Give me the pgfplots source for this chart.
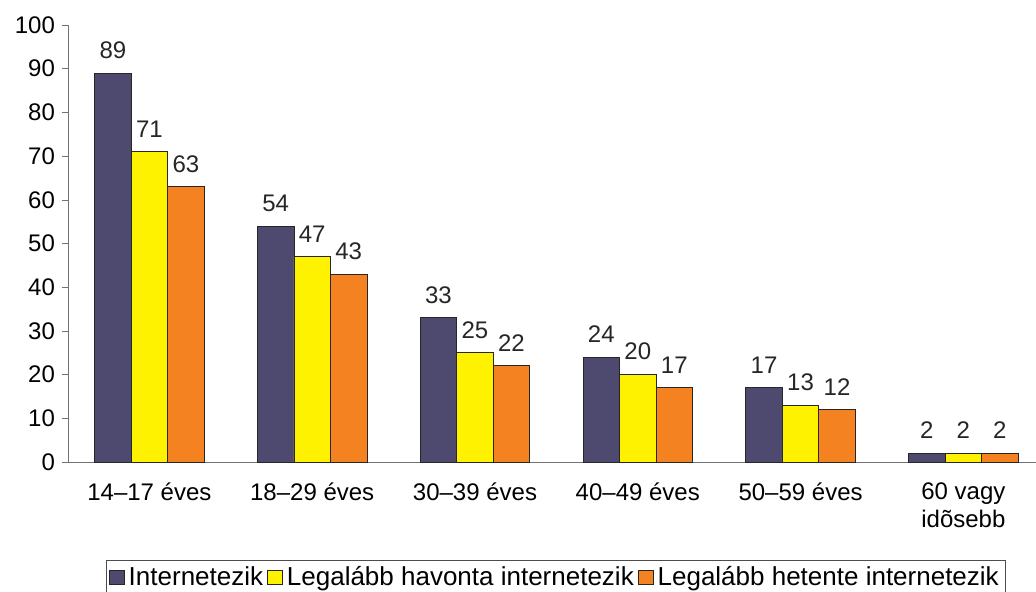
\documentclass[border=0pt]{standalone}
\usepackage{pgfplots}
\pgfplotsset{compat=1.18}
\usepackage{fontspec}
\setmainfont{Liberation Sans}
\definecolor{barBlue}{HTML}{4E4A6F}
\definecolor{barYellow}{HTML}{FFF200}
\definecolor{barOrange}{HTML}{F58220}
\newcommand{\lbl}{\fontsize{12}{14}\selectfont}
\newcommand{\leg}{\fontsize{13}{15}\selectfont}
\begin{document}
\begin{tikzpicture}
\begin{axis}[
  name=ax, scale only axis, width=484pt, height=218.5pt,
  ybar=0pt, bar width=18.25pt,
  xmin=-0.5, xmax=5.446, ymin=0, ymax=100,
  axis lines=left, axis line style={black!55,-},
  tick align=outside, tick style={black!55},
  xtick={0,...,5},
  xticklabels={14–17 éves,18–29 éves,30–39 éves,40–49 éves,50–59 éves,{60 vagy\\idõsebb}},
  xticklabel style={align=center,font=\lbl,yshift=-4pt},
  major x tick style={draw=none},
  extra x ticks={-0.5,0.5,1.5,2.5,3.5,4.5},
  extra x tick labels={},
  extra x tick style={major tick length=4pt,tick style={black!55}},
  ytick={0,10,...,100}, major tick length=3pt,
  yticklabel style={font=\lbl},
  /pgf/number format/assume math mode=true,
  nodes near coords,
  every node near coord/.append style={font=\lbl,inner sep=0pt,yshift=7pt,text=black!85},
  legend columns=3,
  legend style={at={(0.504,-0.2243)},anchor=north,draw=black!70,font=\leg,
    inner xsep=1.5pt,inner ysep=1pt,
    /tikz/every even column/.append style={column sep=0pt}},
  legend image code/.code={\draw[#1,draw=black!85] (0pt,-3.5pt) rectangle (7.5pt,3.5pt);},
  clip=false,
]
\addplot[fill=barBlue,draw=black!85] coordinates {(0,89) (1,54) (2,33) (3,24) (4,17) (5,2)};
\addplot[fill=barYellow,draw=black!85] coordinates {(0,71) (1,47) (2,25) (3,20) (4,13) (5,2)};
\addplot[fill=barOrange,draw=black!85] coordinates {(0,63) (1,43) (2,22) (3,17) (4,12) (5,2)};
\legend{Internetezik,Legalább havonta internetezik,Legalább hetente internetezik}
\end{axis}
\pgfresetboundingbox
\path[use as bounding box] ([shift={(-34pt,-65pt)}]ax.south west) rectangle ([shift={(0pt,12.5pt)}]ax.north east);
\end{tikzpicture}
\end{document}
